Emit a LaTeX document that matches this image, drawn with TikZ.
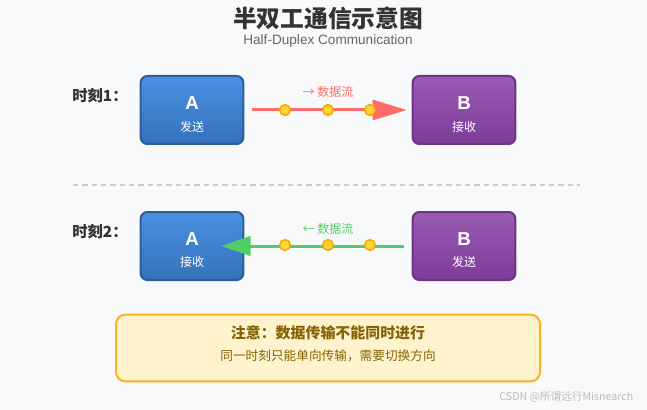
\documentclass[tikz,border=0pt]{standalone}
\usepackage{fontspec}
\setmainfont{Liberation Sans}
\newfontfamily\cjk{Noto Sans CJK SC}
\usetikzlibrary{arrows.meta}
\definecolor{bgcol}{HTML}{F8F9FA}
\definecolor{titletext}{HTML}{333333}
\definecolor{subtext}{HTML}{666666}
\definecolor{boxAtop}{HTML}{4A90E2}
\definecolor{boxAbot}{HTML}{3572BA}
\definecolor{boxAline}{HTML}{2B5F97}
\definecolor{boxBtop}{HTML}{9B59B6}
\definecolor{boxBbot}{HTML}{7D3C98}
\definecolor{boxBline}{HTML}{6C3483}
\definecolor{sendred}{HTML}{FF6B6B}
\definecolor{recvgreen}{HTML}{51CF66}
\definecolor{dotfill}{HTML}{FFD43B}
\definecolor{dotline}{HTML}{F5A800}
\definecolor{notefill}{HTML}{FFF3CD}
\definecolor{noteline}{HTML}{FFB020}
\definecolor{notetext}{HTML}{856404}
\definecolor{marktext}{HTML}{BBBBBB}

\begin{document}
\begin{tikzpicture}[x=0.75pt, y=-0.75pt,
  station/.style={draw, line width=1.5pt, rounded corners=5pt, minimum width=77pt, minimum height=51pt, inner sep=0pt},
  stationA/.style={station, draw=boxAline, top color=boxAtop, bottom color=boxAbot},
  stationB/.style={station, draw=boxBline, top color=boxBtop, bottom color=boxBbot},
  letter/.style={text=white, font=\bfseries\fontsize{14}{15}\selectfont, inner sep=0pt},
  role/.style={text=white, font=\cjk\fontsize{9}{10}\selectfont, inner sep=0pt},
  moment/.style={anchor=west, text=titletext, font=\cjk\bfseries\fontsize{11.5}{13}\selectfont, inner sep=0pt},
  dot/.style={circle, fill=dotfill, draw=dotline, line width=1.1pt, minimum size=8pt, inner sep=0pt},
  flowlabel/.style={font=\cjk\fontsize{9}{10}\selectfont, inner sep=0pt}]

  % background and page size
  \fill[bgcol] (0,0) rectangle (647,410);

  % title
  \node[text=titletext, font=\cjk\bfseries\fontsize{17.8}{20}\selectfont] (title) at (328,18) {半双工通信示意图};
  \node[text=subtext, font=\fontsize{10.2}{12}\selectfont] (subtitle) at (328,41) {Half-Duplex Communication};

  % moment 1: A sends, B receives
  \node[moment] (m1) at (72,96) {时刻1：};
  \node[stationA] (a1) at (192,110) {};
  \node[stationB] (b1) at (464,110) {};
  \node[letter] (a1l) at (192,103) {A};
  \node[role]   (a1r) at (192,127) {发送};
  \node[letter] (b1l) at (464,103) {B};
  \node[role]   (b1r) at (464,127) {接收};
  \draw[sendred, line width=2.25pt, -{Triangle[length=25.5pt,width=15pt]},
        shorten <=6pt, shorten >=3.75pt] (a1) -- (b1);
  \foreach \x in {285,328,370}
    \node[dot] (d1\x) at (\x,110) {};
  \node[flowlabel, text=sendred] (f1) at (328,92) {→ 数据流};

  % separator
  \draw[gray!40, line width=0.9pt, dash pattern=on 4pt off 3pt] (73,185) -- (580,185);

  % moment 2: B sends, A receives
  \node[moment] (m2) at (72,232) {时刻2：};
  \node[stationA] (a2) at (192,246) {};
  \node[stationB] (b2) at (464,246) {};
  \node[letter] (a2l) at (192,239) {A};
  \node[role]   (a2r) at (192,262) {接收};
  \node[letter] (b2l) at (464,239) {B};
  \node[role]   (b2r) at (464,262) {发送};
  \draw[recvgreen, line width=2.25pt, -{Triangle[length=22pt,width=14.5pt]},
        shorten <=6pt, shorten >=-17.25pt] (b2) -- (a2);
  \foreach \x in {285,328,370}
    \node[dot] (d2\x) at (\x,245) {};
  \node[flowlabel, text=recvgreen] (f2) at (328,229) {← 数据流};

  % note
  \node[draw=noteline, fill=notefill, line width=1.5pt, rounded corners=7pt,
        minimum width=318pt, minimum height=50pt] (note) at (328,348) {};
  \node[text=notetext, font=\cjk\bfseries\fontsize{11.2}{13}\selectfont] (notehead) at (328,333) {注意：数据传输不能同时进行};
  \node[text=notetext, font=\cjk\fontsize{9.5}{11}\selectfont] (notebody) at (328,356) {同一时刻只能单向传输，需要切换方向};

  \node[text=marktext, font=\cjk\fontsize{8}{9}\selectfont, anchor=east] (mark) at (638,397) {CSDN @所谓远行Misnearch};
\end{tikzpicture}
\end{document}
